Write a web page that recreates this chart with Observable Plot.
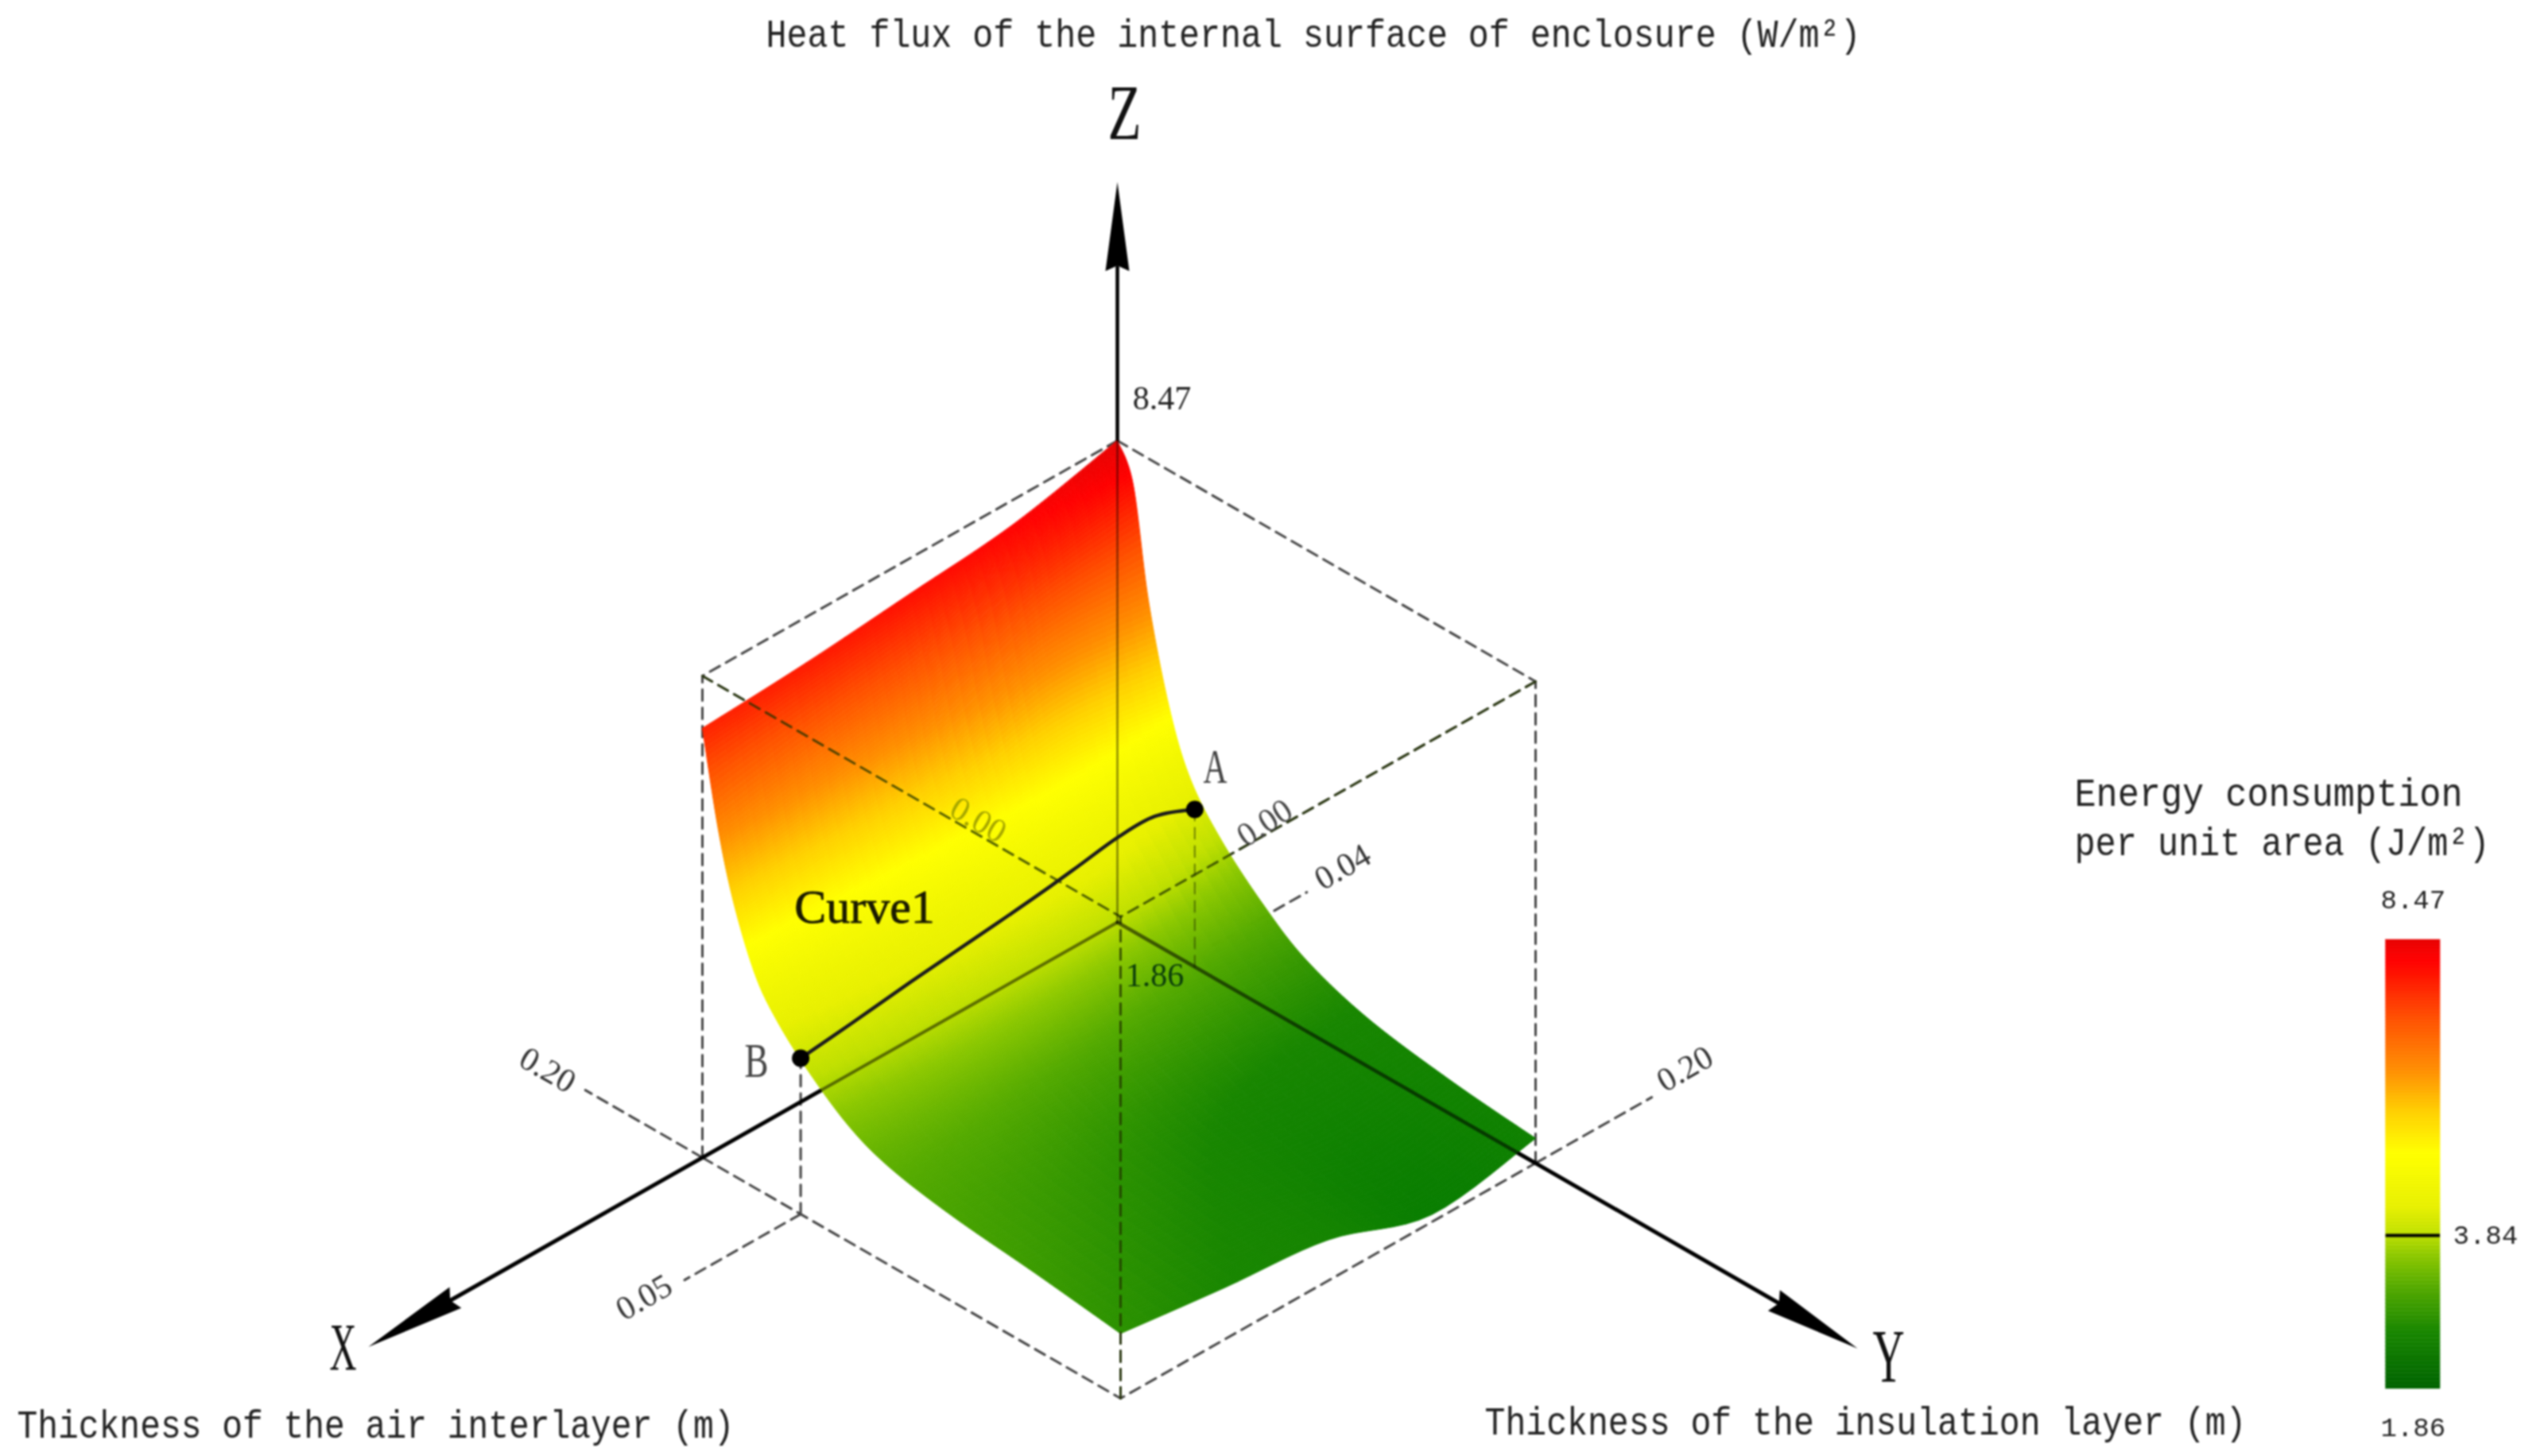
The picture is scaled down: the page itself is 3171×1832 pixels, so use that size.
<!DOCTYPE html>
<html><head><meta charset="utf-8">
<script src="https://cdn.jsdelivr.net/npm/d3@7"></script>
<script src="https://cdn.jsdelivr.net/npm/@observablehq/plot@0.6"></script>
<style>html,body{margin:0;padding:0;background:#fff;overflow:hidden}#wrap{position:relative;width:3171px;height:1832px;filter:blur(0.8px)}#legend{position:absolute;left:2980px;top:1100px}</style>
</head><body><div id="wrap"><div id="main"></div><div id="legend"></div></div>
<script>
// ---- data ----
const airThickness = [0, 0.05, 0.10, 0.15, 0.20];
const insulationThickness = [0, 0.0075, 0.015, 0.025, 0.035, 0.05, 0.07, 0.09, 0.12, 0.16, 0.20];
const fluxAtAir000 = [8.47, 8.00, 6.50, 5.20, 4.40, 3.80, 3.25, 2.84, 2.52, 2.32, 2.20];
const fluxAtAir005 = [8.13, 7.70, 6.60, 5.40, 4.70, 4.15, 3.40, 2.95, 2.55, 2.20, 1.96];
const fluxAtAir010 = [7.98, 7.10, 6.10, 5.20, 4.65, 4.15, 3.50, 3.05, 2.70, 2.50, 2.42];
const fluxAtAir015 = [7.84, 6.80, 5.80, 5.00, 4.50, 4.05, 3.50, 3.15, 2.88, 2.70, 2.57];
const fluxAtAir020 = [7.75, 6.50, 5.60, 4.80, 4.35, 3.90, 3.45, 3.20, 3.03, 2.90, 2.75];
const curveAir  = [0, 0.0203, 0.0389, 0.0574, 0.0728, 0.1006, 0.1438, 0.1744, 0.20];
const curveFlux = [4.02, 4.27, 4.30, 4.25, 4.21, 4.16, 4.10, 4.04, 4.00];
const pointA = 0.037, pointB = 0.047;            // insulation thickness at the ends of Curve1
const zMin = 1.86, zMax = 8.47, zMark = 3.84, axMax = 0.20;
const colorStopsZ = [1.86, 2.56, 3.14, 3.55, 3.84, 4.26, 5.10, 5.74, 6.37, 7.21, 8.12, 8.47];
const colorStops  = ["#006400", "#188600", "#54aa00", "#8cc800", "#c0e000", "#e8f000", "#ffff00", "#ffd000", "#ff9000", "#ff5000", "#ff0000", "#e60000"];
const surfaceFloorColor = "#067c00";
const legendTicks = [8.47, 3.84, 1.86];

// ---- isometric view ----
const view = {ox: 1405, oy: 1160, xx: -2610, xy: 1480, yx: 2630, yy: 1515, zy: -606 / (zMax - zMin)};
const sx = (X, Y) => view.ox + view.xx * X + view.yx * Y;
const sy = (X, Y, Z = zMin) => view.oy + view.xy * X + view.yy * Y + view.zy * (Z - zMin);
const P = (X, Y, Z = zMin) => ({x: sx(X, Y), y: sy(X, Y, Z)});

// ---- surface mesh ----
const rows = [fluxAtAir000, fluxAtAir005, fluxAtAir010, fluxAtAir015, fluxAtAir020];
function cr(p, t) {
  const n = p.length, i = Math.min(Math.floor(t), n - 2), u = t - i;
  const a = p[Math.max(i - 1, 0)], b = p[i], c = p[i + 1], d = p[Math.min(i + 2, n - 1)];
  return b + 0.5 * u * (c - a + u * (2 * a - 5 * b + 4 * c - d + u * (3 * b - a - 3 * c + d)));
}
const subX = 8, subY = 20;
const mesh = [];
const nodeAt = (ti, tj) => {
  const X = cr(airThickness, ti), Y = cr(insulationThickness, tj);
  const Z = cr(rows.map(r => cr(r, tj)), ti);
  return {X, Y, Z, p: [sx(X, Y), sy(X, Y, Z)]};
};
for (let a = 0; a < (airThickness.length - 1) * subX; a++) {
  for (let b = 0; b < (insulationThickness.length - 1) * subY; b++) {
    const n00 = nodeAt(a / subX, b / subY), n10 = nodeAt((a + 1) / subX, b / subY),
          n11 = nodeAt((a + 1) / subX, (b + 1) / subY), n01 = nodeAt(a / subX, (b + 1) / subY);
    mesh.push({
      z: (n00.Z + n10.Z + n11.Z + n01.Z) / 4,
      order: a / subX + b / subY,
      geometry: {type: "Polygon", coordinates: [[n00.p, n01.p, n11.p, n10.p, n00.p]]}
    });
  }
}
mesh.sort((u, v) => u.order - v.order);

const colorOpts = {type: "linear", domain: colorStopsZ, range: [surfaceFloorColor, ...colorStops.slice(1)], clamp: true, interpolate: "rgb"};
const legendColorOpts = {type: "linear", domain: colorStopsZ, range: colorStops, clamp: true, interpolate: "rgb"};

// ---- guides ----
const seg = (id, ...pts) => pts.map(p => ({id, ...P(...p)}));
const boxEdges = [
  ...seg("t1", [0,0,zMax],[axMax,0,zMax]),
  ...seg("t2", [0,0,zMax],[0,axMax,zMax]),
  ...seg("t3", [axMax,0,zMax],[axMax,axMax,zMax]),
  ...seg("t4", [0,axMax,zMax],[axMax,axMax,zMax]),
  ...seg("v1", [axMax,0,zMin],[axMax,0,zMax]),
  ...seg("v2", [0,axMax,zMin],[0,axMax,zMax]),
  ...seg("v3", [axMax,axMax,zMin],[axMax,axMax,zMax]),
  ...seg("b1", [axMax,0,zMin],[axMax,axMax,zMin],[0,axMax,zMin]),
  ...seg("e1", [axMax,0,zMin],[axMax,-0.056,zMin]),
  ...seg("e2", [0,axMax,zMin],[-0.056,axMax,zMin]),
  ...seg("e3", [axMax,pointB,zMin],[0.256,pointB,zMin]),
  ...seg("vB", [axMax,pointB,zMin],[axMax,pointB,curveFlux[8]])
];
const guide04 = seg("g", [0,pointA,zMin],[-0.054,pointA,zMin]);
const guideA = seg("vA", [0,pointA,zMin],[0,pointA,curveFlux[0]]);
const overlayDash = [
  ...seg("t3", [axMax,0,zMax],[axMax,axMax,zMax]),
  ...seg("t4", [0,axMax,zMax],[axMax,axMax,zMax]),
  ...seg("v3", [axMax,axMax,zMin],[axMax,axMax,zMax])
];
const axisX = [P(0,0), P(0.323,0)], axisY = [P(0,0), P(0,0.319)], axisZ = [P(0,0,zMax), P(0,0,10.85)];
const head = (id, tip, base, w = 15) => {
  const dx = tip.x - base.x, dy = tip.y - base.y, L = Math.hypot(dx, dy), nx = -dy / L * w, ny = dx / L * w;
  return [{id, x: tip.x, y: tip.y}, {id, x: base.x + nx, y: base.y + ny}, {id, x: base.x + dx * 0.06, y: base.y + dy * 0.06}, {id, x: base.x - nx, y: base.y - ny}];
};
const heads = [
  ...head("hx", P(0.361,0), P(0.319,0)),
  ...head("hy", P(0,0.354), P(0,0.314)),
  ...head("hz", P(0,0,12.02), P(0,0,10.8))
];
const curvePts = curveAir.map((a, i) => P(a, pointA + (pointB - pointA) * a / axMax, curveFlux[i]));
const ends = [curvePts[0], curvePts[curvePts.length - 1]];

// ---- labels attached to model positions ----
const serif = "Liberation Serif", mono = "Liberation Mono";
const tickLabels = [
  {t: "0.20", ...P(axMax,-0.074), dy: 2, r: 30, c: "#333"},
  {t: "0.05", ...P(0.2755,pointB), dy: -7, r: -30, c: "#333"},
  {t: "0.20", ...P(-0.072,axMax), dy: -12, r: -30, c: "#333"},
  {t: "0.04", ...P(-0.0713,pointA), dy: -20, r: -30, c: "#333"},
  {t: "0.00", ...P(-0.071,0.0), dy: -20, r: -33, c: "#444"},
  {t: "0.00", ...P(0.067,0.0), dy: -228, r: 30, c: "#a6a600"},
  {t: "1.86", ...P(0,0), dx: 47, dy: 67, r: 0, c: "#0b3d0b"},
  {t: "8.47", ...P(0,0,zMax), dx: 56, dy: -53, r: 0, c: "#222"}
];
const letters = [
  {t: "X", x: 431, y: 1697, s: 84, w: 34},
  {t: "Y", x: 2375, y: 1708, s: 96, w: 40},
  {t: "Z", x: 1414, y: 142, s: 100, w: 42},
  {t: "A", x: 1528, y: 965, s: 62, w: 30, c: "#444"},
  {t: "B", x: 951, y: 1335, s: 62, w: 30, c: "#444"}
];
const titles = [
  {t: "Heat flux of the internal surface of enclosure (W/m²)", dx: 963, dy: 42, w: 1377},
  {t: "Thickness of the air interlayer (m)", dx: 21, dy: 1792, w: 902},
  {t: "Thickness of the insulation layer (m)", dx: 1867, dy: 1788, w: 958},
  {t: "Energy consumption", dx: 2609, dy: 997, w: 488},
  {t: "per unit area (J/m²)", dx: 2609, dy: 1059, w: 522}
];

const dashStyle = {x: "x", y: "y", z: "id", stroke: "#444", strokeWidth: 3, strokeDasharray: "14,9"};

const main = Plot.plot({
  width: 3171, height: 1832, margin: 0,
  x: {domain: [0, 3171], range: [0, 3171], axis: null},
  y: {domain: [0, 1832], range: [0, 1832], axis: null},
  color: colorOpts,
  marks: [
    Plot.line(boxEdges, dashStyle),
    Plot.line(guide04, {...dashStyle, dy: -14}),
    Plot.line(axisX, {x: "x", y: "y", stroke: "#000", strokeWidth: 5}),
    Plot.line(axisY, {x: "x", y: "y", stroke: "#000", strokeWidth: 5}),
    Plot.line(axisZ, {x: "x", y: "y", stroke: "#000", strokeWidth: 4.5}),
    Plot.line(heads, {x: "x", y: "y", z: "id", fill: "#000", stroke: null}),
    Plot.geo(mesh, {geometry: "geometry", fill: "z", stroke: "z", strokeWidth: 1}),
    Plot.line(overlayDash, {...dashStyle, stroke: "#223300", strokeOpacity: 0.75}),
    Plot.line(guideA, {...dashStyle, stroke: "#223300", strokeWidth: 2, strokeOpacity: 0.55}),
    Plot.line([P(0,0), P(0,0,zMax)], {x: "x", y: "y", stroke: "#000", strokeWidth: 2.5, strokeOpacity: 0.45}),
    Plot.line([P(0,0), P(0.144,0)], {x: "x", y: "y", stroke: "#000", strokeWidth: 4, strokeOpacity: 0.5}),
    Plot.line([P(0,0), P(0,axMax)], {x: "x", y: "y", stroke: "#000", strokeWidth: 4.5, strokeOpacity: 0.55}),
    Plot.line(curvePts, {x: "x", y: "y", stroke: "#1c1c1c", strokeWidth: 4.5, curve: "catmull-rom"}),
    Plot.dot(ends, {x: "x", y: "y", r: 11, fill: "#000", stroke: null}),
    Plot.text(tickLabels, {x: "x", y: "y", text: "t", rotate: "r", fill: "c", fontFamily: serif, fontSize: 42}),
    Plot.text(letters, {x: "x", y: "y", text: "t", fontFamily: serif, fontSize: "s", fill: d => d.c ?? "#111"}),
    Plot.text(["Curve1"], {x: [1087], y: [1141], text: d => d, fontFamily: serif, fontSize: 60, fill: "#1a1a00", stroke: "#1a1a00", strokeWidth: 0.8}),
    ...titles.map(d => Plot.text([d.t], {frameAnchor: "top-left", dx: d.dx, dy: d.dy, text: t => t, textAnchor: "start", lineAnchor: "middle", fontFamily: mono, fontSize: 50, fill: "#222"}))
  ]
});
document.getElementById("main").append(main);

// per-label offsets and the narrow glyph widths of the original lettering
main.querySelectorAll("text").forEach(n => {
  const s = n.textContent;
  const tk = tickLabels.find(d => d.t === s && Math.abs(+(n.getAttribute("transform") || "").match(/translate\(([-\d.]+)/)?.[1] - d.x) < 1);
  if (tk) {
    n.setAttribute("transform", n.getAttribute("transform").replace(/translate\(([-\d.]+),([-\d.]+)\)/, (m, a, b) => `translate(${+a + (tk.dx || 0)},${+b + tk.dy})`));
  }
  const ti = titles.find(d => d.t === s), le = letters.find(d => d.t === s);
  const w = ti ? ti.w : le ? le.w : null;
  if (w) { n.setAttribute("textLength", w); n.setAttribute("lengthAdjust", "spacingAndGlyphs"); }
});

// ---- colour legend ----
const levels = d3.range(zMin, zMax, 0.05);
const legend = Plot.plot({
  width: 191, height: 732, margin: 0,
  x: {domain: [0, 1], range: [20.6, 89], axis: null},
  y: {type: "linear", domain: [zMin, zMark, zMax], range: [647, 454, 82], axis: null},
  color: legendColorOpts,
  marks: [
    Plot.rect(levels, {x1: 0, x2: 1, y1: d => d, y2: d => Math.min(d + 0.05, zMax), fill: d => d, stroke: d => d, strokeWidth: 0.5}),
    Plot.ruleY([zMark], {x1: 0, x2: 1, stroke: "#000", strokeWidth: 4}),
    Plot.text(legendTicks.filter(d => d === zMax), {x: 0.5, y: d => d, text: d => d.toFixed(2), dy: -50, fontFamily: mono, fontSize: 34, fill: "#222"}),
    Plot.text(legendTicks.filter(d => d === zMin), {x: 0.5, y: d => d, text: d => d.toFixed(2), dy: 49, fontFamily: mono, fontSize: 34, fill: "#222"}),
    Plot.text(legendTicks.filter(d => d === zMark), {x: 1, y: d => d, text: d => d.toFixed(2), dx: 16, textAnchor: "start", fontFamily: mono, fontSize: 34, fill: "#222"})
  ]
});
document.getElementById("legend").append(legend);
</script>
</body></html>
